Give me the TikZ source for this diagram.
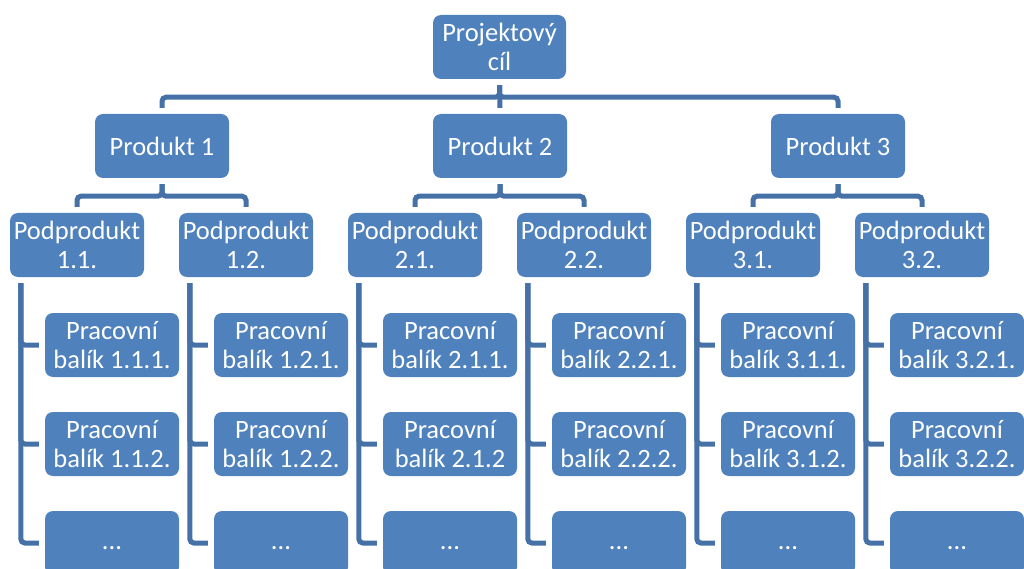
\documentclass[tikz,border=0pt]{standalone}
\usepackage{fontspec}
\setmainfont{Carlito}
\definecolor{boxblue}{HTML}{4F81BD}
\definecolor{linkblue}{HTML}{4571A6}
\tikzset{
  wbs/.style={rectangle, rounded corners=8pt, fill=boxblue, draw=none,
    minimum width=134pt, minimum height=64pt, inner sep=0pt,
    text=white, align=center, font=\fontsize{26.5}{29}\selectfont},
  conn/.style={draw=linkblue, line width=5pt, rounded corners=4pt,
    shorten <=6pt, shorten >=6pt},
}
\begin{document}
\begin{tikzpicture}[x=1pt, y=-1pt]
\useasboundingbox (0,0) rectangle (1024,569);
\clip (0,0) rectangle (1024,569);

% top goal and products
\node[wbs, minimum width=133pt] (goal) at (499.5,47) {Projektový\\cíl};
\node[wbs] (p1) at (162,146) {Produkt 1};
\node[wbs] (p2) at (500,146) {Produkt 2};
\node[wbs] (p3) at (838,146) {Produkt 3};

% sub-products
\node[wbs] (s11) at (77,245)  {Podprodukt\\1.1.};
\node[wbs] (s12) at (246,245) {Podprodukt\\1.2.};
\node[wbs] (s21) at (415,245) {Podprodukt\\2.1.};
\node[wbs] (s22) at (584,245) {Podprodukt\\2.2.};
\node[wbs] (s31) at (753,245) {Podprodukt\\3.1.};
\node[wbs] (s32) at (922,245) {Podprodukt\\3.2.};

% work packages
\foreach \s/\x/\a/\b in {11/112/1.1.1./1.1.2., 12/281/1.2.1./1.2.2.,
                         21/450/2.1.1./2.1.2, 22/619/2.2.1./2.2.2.,
                         31/788/3.1.1./3.1.2., 32/957/3.2.1./3.2.2.}{
  \node[wbs] (w\s a) at (\x,345) {Pracovní\\balík \a};
  \node[wbs] (w\s b) at (\x,444) {Pracovní\\balík \b};
  \node[wbs] (w\s c) at (\x,543) {\vphantom{Pp}...};
}

% goal to products
\draw[conn] (goal.south) -- ++(0,18) -| (p1.north);
\draw[conn] (goal.south) -- ++(0,18) -| (p3.north);
\draw[conn] (goal.south) -- (p2.north);

% products to sub-products
\foreach \p/\l/\r in {p1/s11/s12, p2/s21/s22, p3/s31/s32}{
  \draw[conn] (\p.south) -- ++(0,18) -| (\l.north);
  \draw[conn] (\p.south) -- ++(0,18) -| (\r.north);
}

% sub-products to work packages
\foreach \s in {11,12,21,22,31,32}{
  \draw[conn] ([xshift=11pt]s\s.south west) |- (w\s a.west);
  \draw[conn] ([xshift=11pt]s\s.south west) |- (w\s b.west);
  \draw[conn] ([xshift=11pt]s\s.south west) |- (w\s c.west);
}
\end{tikzpicture}
\end{document}
